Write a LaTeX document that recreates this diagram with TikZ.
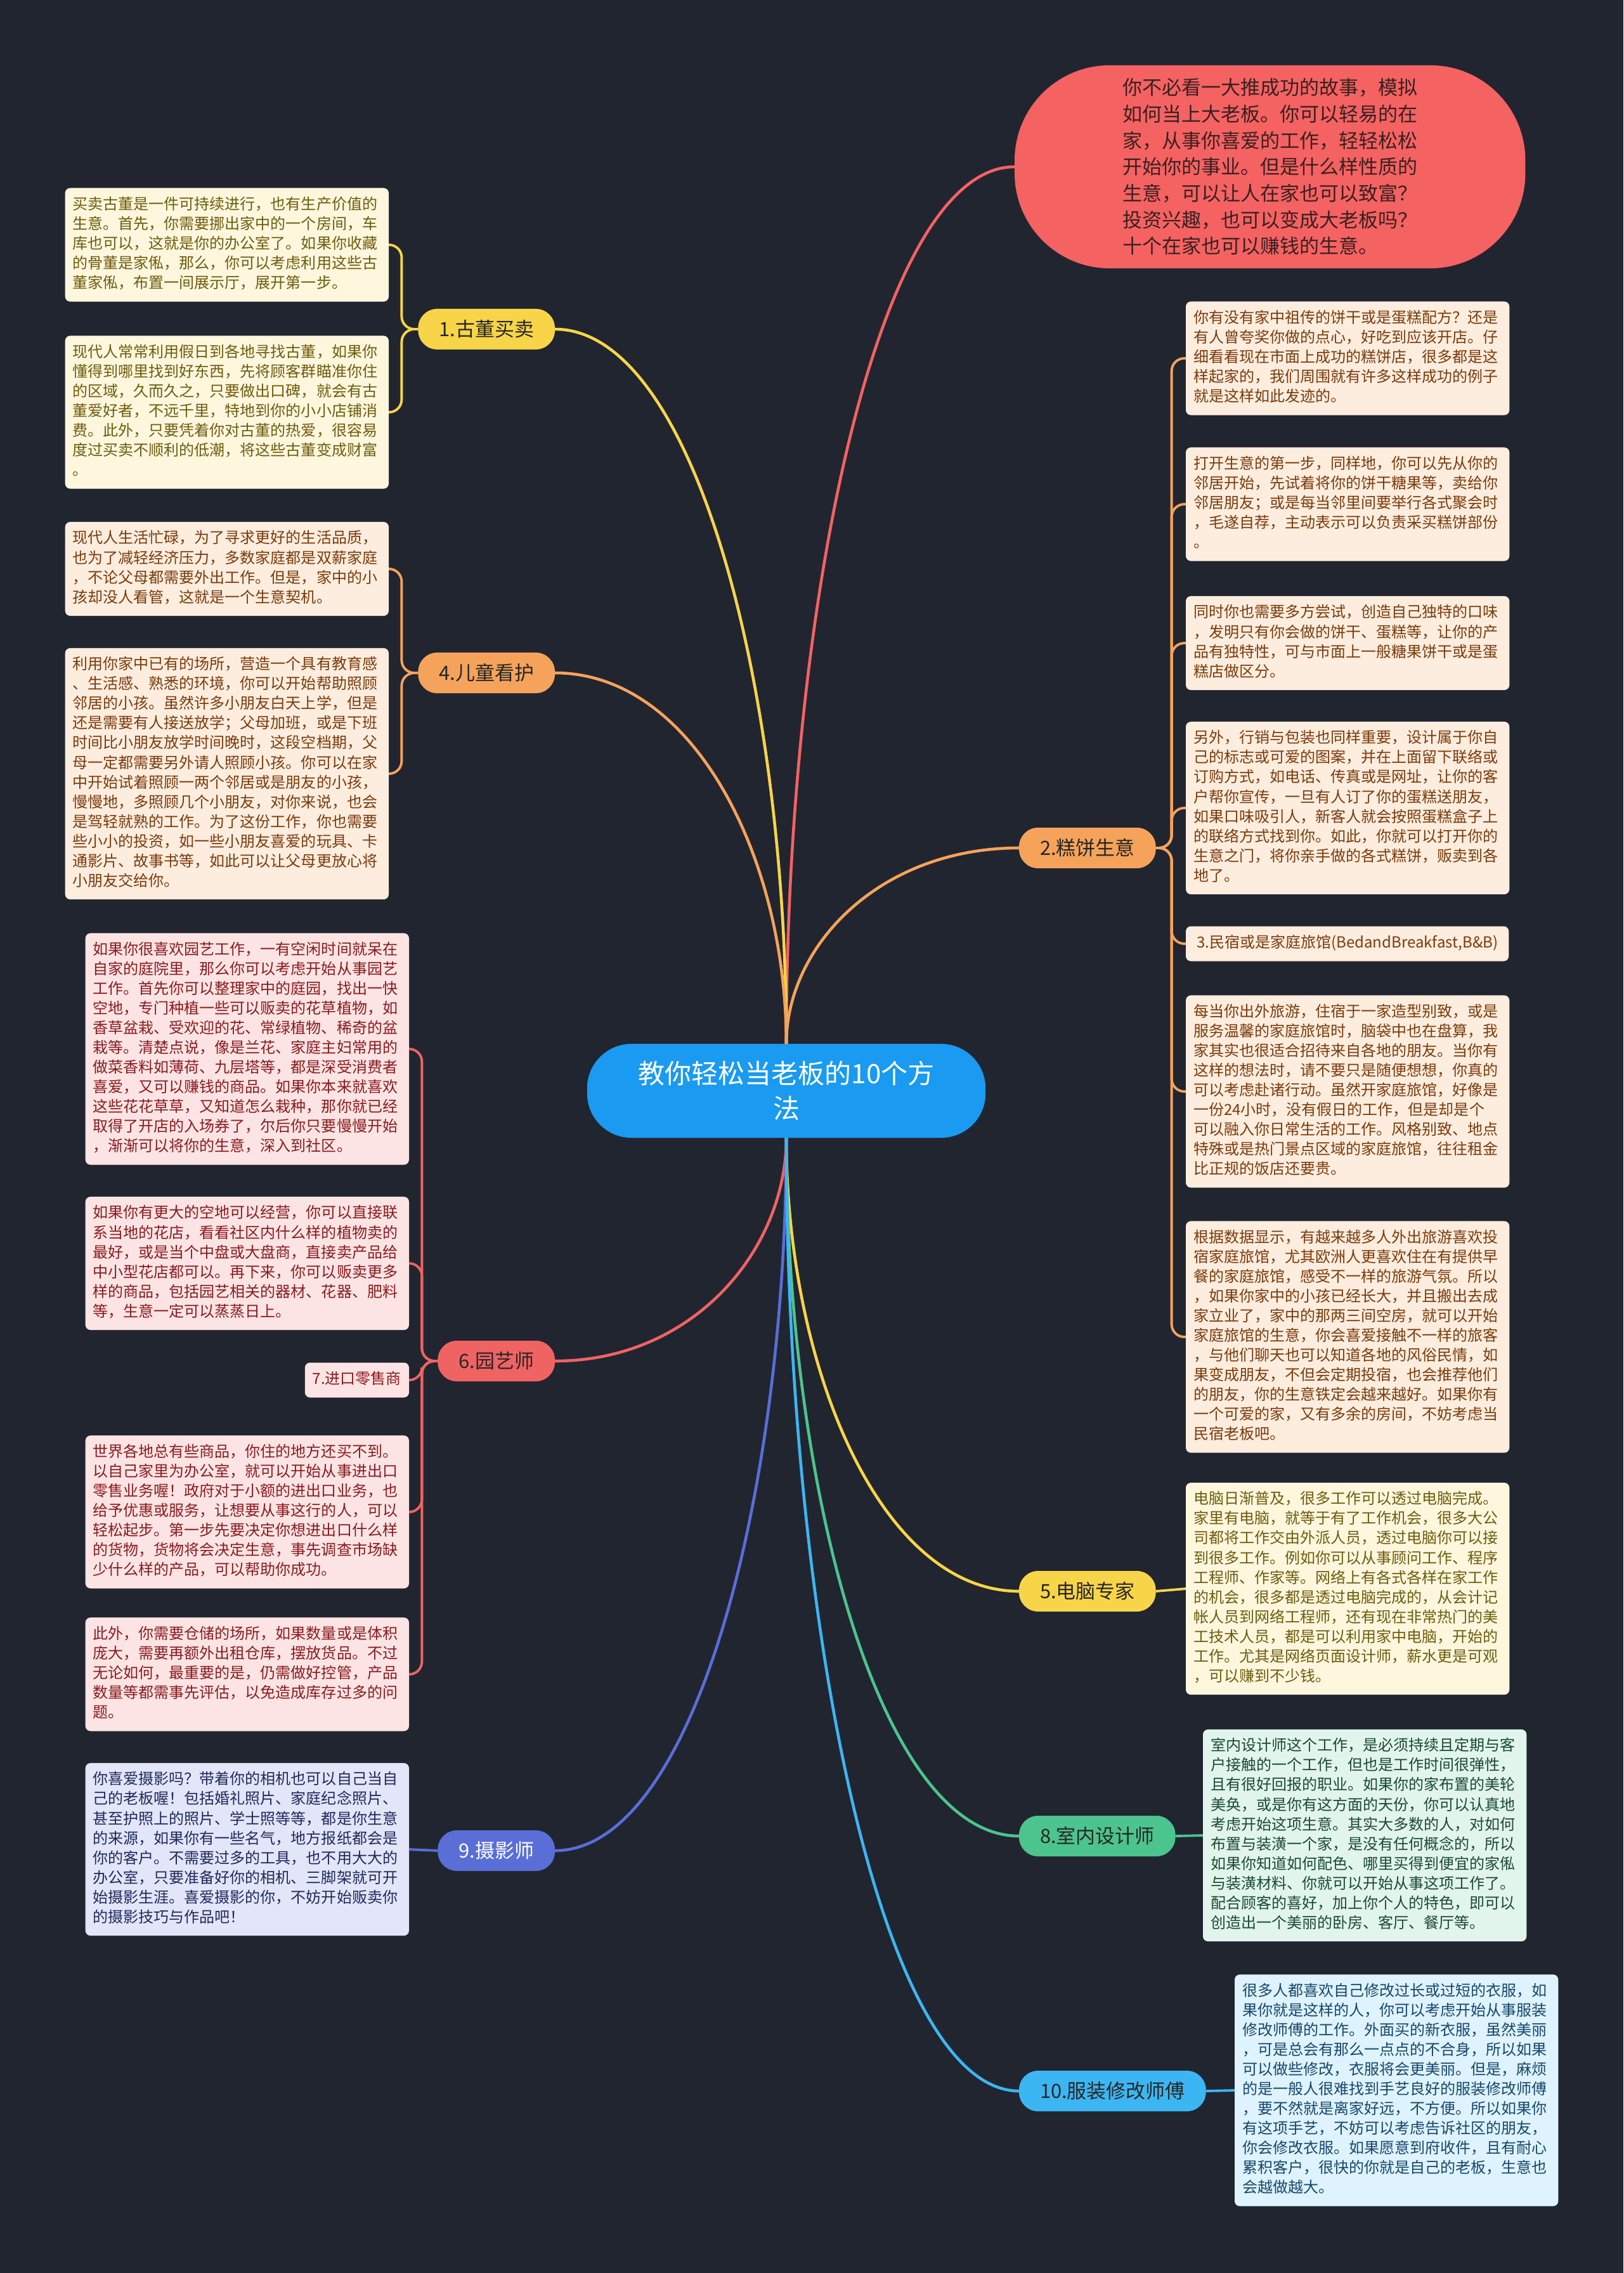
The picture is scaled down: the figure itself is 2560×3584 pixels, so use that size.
\documentclass[tikz,border=0pt]{standalone}
\usepackage{fontspec}
\setmainfont{Noto Sans CJK SC}
\usetikzlibrary{calc}
\definecolor{mmBack}{HTML}{212530}
\definecolor{mmBlue}{HTML}{1A9AF0}
\definecolor{mmRed}{HTML}{F46262}
\definecolor{mmGold}{HTML}{F8D548}
\definecolor{mmOrange}{HTML}{F5A35A}
\definecolor{mmRose}{HTML}{F06363}
\definecolor{mmIndigo}{HTML}{5A6ED8}
\definecolor{mmGreen}{HTML}{4CC48D}
\definecolor{mmSky}{HTML}{3CB6F2}
\definecolor{mmInk}{HTML}{262626}
\definecolor{redInk}{HTML}{3A2020}
\definecolor{goldInk}{HTML}{6E5C0E}
\definecolor{orangeInk}{HTML}{7A3B0C}
\definecolor{roseInk}{HTML}{8A1B1F}
\definecolor{indigoInk}{HTML}{1F2A5C}
\definecolor{greenInk}{HTML}{1C4A33}
\definecolor{skyInk}{HTML}{17476A}
\newcommand\cardstrut{\rule[-0.09cm]{0pt}{0.31cm}}

\begin{document}
\begin{tikzpicture}[
  x=0.01cm,y=-0.01cm,
  every node/.style={outer sep=0pt},
  core/.style={
    rounded corners=0.7cm,
    fill=mmBlue,
    text=white,
    align=center,
    minimum width=6.28cm,
    minimum height=1.48cm,
    font=\fontsize{11.95}{15.65}\selectfont
  },
  topic/.style={
    rounded corners=0.3cm,
    minimum height=0.64cm,
    inner xsep=0.33cm,
    text=mmInk,
    font=\fontsize{8.8}{10}\selectfont
  },
  card/.style={
    rounded corners=0.08cm,
    inner xsep=0.12cm,
    inner ysep=0.12cm,
    align=left,
    font=\fontsize{6.83}{8.82}\selectfont,
    execute at begin node=\cardstrut,
    execute at end node=\cardstrut
  },
  memo/.style={
    card,
    text width=4.86cm
  },
  link/.style={
    line width=1.3pt,
    to path={.. controls ($(\tikztostart)!0.5!(\tikztostart|-\tikztotarget)$)
      and ($(\tikztotarget)!0.6!(\tikztotarget-|\tikztostart)$) .. (\tikztotarget)}
  },
  twig/.style={
    line width=1.1pt,
    rounded corners=0.2cm
  }
]
\useasboundingbox (0,0) rectangle (2560,3584);
\fill[mmBack] (0,0) rectangle (2560,3584);

% Centre and intro
\node[core] (hub) at (1240,1720)
  {教你轻松当老板的10个方\\法};

\node[
  rounded corners=1.5cm,
  fill=mmRed,
  text=redInk,
  align=left,
  minimum width=8.05cm,
  minimum height=3.2cm,
  font=\fontsize{8.82}{11.84}\selectfont,
  anchor=west
] (intro) at (1600,263)
  {你不必看一大推成功的故事，模拟\\
   如何当上大老板。你可以轻易的在\\
   家，从事你喜爱的工作，轻轻松松\\
   开始你的事业。但是什么样性质的\\
   生意，可以让人在家也可以致富？\\
   投资兴趣，也可以变成大老板吗？\\
   十个在家也可以赚钱的生意。};

% Ten topics
\node[topic,fill=mmGold,anchor=east] (antique) at (875,519) {1.古董买卖};
\node[topic,fill=mmOrange,anchor=west] (cake) at (1607,1337) {2.糕饼生意};
\node[topic,fill=mmOrange,anchor=east] (child) at (875,1061) {4.儿童看护};
\node[topic,fill=mmGold,anchor=west] (computer) at (1607,2509) {5.电脑专家};
\node[topic,fill=mmRose,anchor=east] (garden) at (875,2146) {6.园艺师};
\node[topic,fill=mmGreen,anchor=west] (interior) at (1607,2895) {8.室内设计师};
\node[topic,fill=mmIndigo,text=white,anchor=east] (photo) at (875,2918) {9.摄影师};
\node[topic,fill=mmSky,anchor=west] (tailor) at (1607,3297) {10.服装修改师傅};

% Antiques
\node[memo,fill=mmGold!18,text=goldInk,anchor=east] (old1) at (613,386)
  {买卖古董是一件可持续进行，也有生产价值的\\
   生意。首先，你需要挪出家中的一个房间，车\\
   库也可以，这就是你的办公室了。如果你收藏\\
   的骨董是家俬，那么，你可以考虑利用这些古\\
   董家俬，布置一间展示厅，展开第一步。};

\node[memo,fill=mmGold!18,text=goldInk,anchor=east] (old2) at (613,650)
  {现代人常常利用假日到各地寻找古董，如果你\\
   懂得到哪里找到好东西，先将顾客群瞄准你住\\
   的区域，久而久之，只要做出口碑，就会有古\\
   董爱好者，不远千里，特地到你的小小店铺消\\
   费。此外，只要凭着你对古董的热爱，很容易\\
   度过买卖不顺利的低潮，将这些古董变成财富\\
   。};

% Child care
\node[memo,fill=mmOrange!20,text=orangeInk,anchor=east] (kid1) at (613,897)
  {现代人生活忙碌，为了寻求更好的生活品质，\\
   也为了减轻经济压力，多数家庭都是双薪家庭\\
   ，不论父母都需要外出工作。但是，家中的小\\
   孩却没人看管，这就是一个生意契机。};

\node[memo,fill=mmOrange!20,text=orangeInk,anchor=east] (kid2) at (613,1220)
  {利用你家中已有的场所，营造一个具有教育感\\
   、生活感、熟悉的环境，你可以开始帮助照顾\\
   邻居的小孩。虽然许多小朋友白天上学，但是\\
   还是需要有人接送放学；父母加班，或是下班\\
   时间比小朋友放学时间晚时，这段空档期，父\\
   母一定都需要另外请人照顾小孩。你可以在家\\
   中开始试着照顾一两个邻居或是朋友的小孩，\\
   慢慢地，多照顾几个小朋友，对你来说，也会\\
   是驾轻就熟的工作。为了这份工作，你也需要\\
   些小小的投资，如一些小朋友喜爱的玩具、卡\\
   通影片、故事书等，如此可以让父母更放心将\\
   小朋友交给你。};

% Gardening
\node[memo,fill=mmRose!17,text=roseInk,anchor=east] (yard1) at (645,1654)
  {如果你很喜欢园艺工作，一有空闲时间就呆在\\
   自家的庭院里，那么你可以考虑开始从事园艺\\
   工作。首先你可以整理家中的庭园，找出一快\\
   空地，专门种植一些可以贩卖的花草植物，如\\
   香草盆栽、受欢迎的花、常绿植物、稀奇的盆\\
   栽等。清楚点说，像是兰花、家庭主妇常用的\\
   做菜香料如薄荷、九层塔等，都是深受消费者\\
   喜爱，又可以赚钱的商品。如果你本来就喜欢\\
   这些花花草草，又知道怎么栽种，那你就已经\\
   取得了开店的入场券了，尔后你只要慢慢开始\\
   ，渐渐可以将你的生意，深入到社区。};

\node[memo,fill=mmRose!17,text=roseInk,anchor=east] (yard2) at (645,1992)
  {如果你有更大的空地可以经营，你可以直接联\\
   系当地的花店，看看社区内什么样的植物卖的\\
   最好，或是当个中盘或大盘商，直接卖产品给\\
   中小型花店都可以。再下来，你可以贩卖更多\\
   样的商品，包括园艺相关的器材、花器、肥料\\
   等，生意一定可以蒸蒸日上。};

\node[card,fill=mmRose!17,text=roseInk,anchor=east] (yard3) at (645,2176)
  {7.进口零售商};

\node[memo,fill=mmRose!17,text=roseInk,anchor=east] (yard4) at (645,2384)
  {世界各地总有些商品，你住的地方还买不到。\\
   以自己家里为办公室，就可以开始从事进出口\\
   零售业务喔！政府对于小额的进出口业务，也\\
   给予优惠或服务，让想要从事这行的人，可以\\
   轻松起步。第一步先要决定你想进出口什么样\\
   的货物，货物将会决定生意，事先调查市场缺\\
   少什么样的产品，可以帮助你成功。};

\node[memo,fill=mmRose!17,text=roseInk,anchor=east] (yard5) at (645,2640)
  {此外，你需要仓储的场所，如果数量或是体积\\
   庞大，需要再额外出租仓库，摆放货品。不过\\
   无论如何，最重要的是，仍需做好控管，产品\\
   数量等都需事先评估，以免造成库存过多的问\\
   题。};

% Photography
\node[memo,fill=mmIndigo!17,text=indigoInk,anchor=east] (cam1) at (645,2916)
  {你喜爱摄影吗？带着你的相机也可以自己当自\\
   己的老板喔！包括婚礼照片、家庭纪念照片、\\
   甚至护照上的照片、学士照等等，都是你生意\\
   的来源，如果你有一些名气，地方报纸都会是\\
   你的客户。不需要过多的工具，也不用大大的\\
   办公室，只要准备好你的相机、三脚架就可开\\
   始摄影生涯。喜爱摄影的你，不妨开始贩卖你\\
   的摄影技巧与作品吧！};

% Bakery
\node[memo,fill=mmOrange!20,text=orangeInk,anchor=west] (bake1) at (1870,565)
  {你有没有家中祖传的饼干或是蛋糕配方？还是\\
   有人曾夸奖你做的点心，好吃到应该开店。仔\\
   细看看现在市面上成功的糕饼店，很多都是这\\
   样起家的，我们周围就有许多这样成功的例子\\
   就是这样如此发迹的。};

\node[memo,fill=mmOrange!20,text=orangeInk,anchor=west] (bake2) at (1870,795)
  {打开生意的第一步，同样地，你可以先从你的\\
   邻居开始，先试着将你的饼干糖果等，卖给你\\
   邻居朋友；或是每当邻里间要举行各式聚会时\\
   ，毛遂自荐，主动表示可以负责采买糕饼部份\\
   。};

\node[memo,fill=mmOrange!20,text=orangeInk,anchor=west] (bake3) at (1870,1014)
  {同时你也需要多方尝试，创造自己独特的口味\\
   ，发明只有你会做的饼干、蛋糕等，让你的产\\
   品有独特性，可与市面上一般糖果饼干或是蛋\\
   糕店做区分。};

\node[memo,fill=mmOrange!20,text=orangeInk,anchor=west] (bake4) at (1870,1274)
  {另外，行销与包装也同样重要，设计属于你自\\
   己的标志或可爱的图案，并在上面留下联络或\\
   订购方式，如电话、传真或是网址，让你的客\\
   户帮你宣传，一旦有人订了你的蛋糕送朋友，\\
   如果口味吸引人，新客人就会按照蛋糕盒子上\\
   的联络方式找到你。如此，你就可以打开你的\\
   生意之门，将你亲手做的各式糕饼，贩卖到各\\
   地了。};

\node[card,fill=mmOrange!20,text=orangeInk,minimum width=5.09cm,anchor=west] (bake5) at (1870,1488)
  {3.民宿或是家庭旅馆(BedandBreakfast,B\&B)};

\node[memo,fill=mmOrange!20,text=orangeInk,anchor=west] (bake6) at (1870,1721)
  {每当你出外旅游，住宿于一家造型别致，或是\\
   服务温馨的家庭旅馆时，脑袋中也在盘算，我\\
   家其实也很适合招待来自各地的朋友。当你有\\
   这样的想法时，请不要只是随便想想，你真的\\
   可以考虑赴诸行动。虽然开家庭旅馆，好像是\\
   一份24小时，没有假日的工作，但是却是个\\
   可以融入你日常生活的工作。风格别致、地点\\
   特殊或是热门景点区域的家庭旅馆，往往租金\\
   比正规的饭店还要贵。};

\node[memo,fill=mmOrange!20,text=orangeInk,anchor=west] (bake7) at (1870,2108)
  {根据数据显示，有越来越多人外出旅游喜欢投\\
   宿家庭旅馆，尤其欧洲人更喜欢住在有提供早\\
   餐的家庭旅馆，感受不一样的旅游气氛。所以\\
   ，如果你家中的小孩已经长大，并且搬出去成\\
   家立业了，家中的那两三间空房，就可以开始\\
   家庭旅馆的生意，你会喜爱接触不一样的旅客\\
   ，与他们聊天也可以知道各地的风俗民情，如\\
   果变成朋友，不但会定期投宿，也会推荐他们\\
   的朋友，你的生意铁定会越来越好。如果你有\\
   一个可爱的家，又有多余的房间，不妨考虑当\\
   民宿老板吧。};

% Computer work
\node[memo,fill=mmGold!18,text=goldInk,anchor=west] (pc1) at (1870,2505)
  {电脑日渐普及，很多工作可以透过电脑完成。\\
   家里有电脑，就等于有了工作机会，很多大公\\
   司都将工作交由外派人员，透过电脑你可以接\\
   到很多工作。例如你可以从事顾问工作、程序\\
   工程师、作家等。网络上有各式各样在家工作\\
   的机会，很多都是透过电脑完成的，从会计记\\
   帐人员到网络工程师，还有现在非常热门的美\\
   工技术人员，都是可以利用家中电脑，开始的\\
   工作。尤其是网络页面设计师，薪水更是可观\\
   ，可以赚到不少钱。};

% Interior design
\node[memo,fill=mmGreen!17,text=greenInk,anchor=west] (room1) at (1897,2894)
  {室内设计师这个工作，是必须持续且定期与客\\
   户接触的一个工作，但也是工作时间很弹性，\\
   且有很好回报的职业。如果你的家布置的美轮\\
   美奂，或是你有这方面的天份，你可以认真地\\
   考虑开始这项生意。其实大多数的人，对如何\\
   布置与装潢一个家，是没有任何概念的，所以\\
   如果你知道如何配色、哪里买得到便宜的家俬\\
   与装潢材料、你就可以开始从事这项工作了。\\
   配合顾客的喜好，加上你个人的特色，即可以\\
   创造出一个美丽的卧房、客厅、餐厅等。};

% Tailoring
\node[memo,fill=mmSky!17,text=skyInk,anchor=west] (sew1) at (1947,3296)
  {很多人都喜欢自己修改过长或过短的衣服，如\\
   果你就是这样的人，你可以考虑开始从事服装\\
   修改师傅的工作。外面买的新衣服，虽然美丽\\
   ，可是总会有那么一点点的不合身，所以如果\\
   可以做些修改，衣服将会更美丽。但是，麻烦\\
   的是一般人很难找到手艺良好的服装修改师傅\\
   ，要不然就是离家好远，不方便。所以如果你\\
   有这项手艺，不妨可以考虑告诉社区的朋友，\\
   你会修改衣服。如果愿意到府收件，且有耐心\\
   累积客户，很快的你就是自己的老板，生意也\\
   会越做越大。};

% Centre to topics
\draw[link,mmRed] (hub.north) to (intro.west);
\draw[link,mmGold] (hub.north) to (antique.east);
\draw[link,mmOrange] (hub.north) to (child.east);
\draw[link,mmOrange] (hub.north) to (cake.west);
\draw[link,mmRose] (hub.south) to (garden.east);
\draw[link,mmGold] (hub.south) to (computer.west);
\draw[link,mmGreen] (hub.south) to (interior.west);
\draw[link,mmIndigo] (hub.south) to (photo.east);
\draw[link,mmSky] (hub.south) to (tailor.west);

% Topics to notes
\foreach \leaf in {old1,old2}
  \draw[twig,mmGold] (antique.west) -- ++(-26,0) |- (\leaf.east);
\foreach \leaf in {kid1,kid2}
  \draw[twig,mmOrange] (child.west) -- ++(-26,0) |- (\leaf.east);
\foreach \leaf in {yard1,yard2,yard3,yard4,yard5}
  \draw[twig,mmRose] (garden.west) -- ++(-25,0) |- (\leaf.east);
\foreach \leaf in {bake1,bake2,bake3,bake4,bake5,bake6,bake7}
  \draw[twig,mmOrange] (cake.east) -- ++(25,0) |- (\leaf.west);

\draw[twig,mmIndigo] (photo.west) -- (cam1.east);
\draw[twig,mmGold] (computer.east) -- (pc1.west);
\draw[twig,mmGreen] (interior.east) -- (room1.west);
\draw[twig,mmSky] (tailor.east) -- (sew1.west);

\end{tikzpicture}
\end{document}
